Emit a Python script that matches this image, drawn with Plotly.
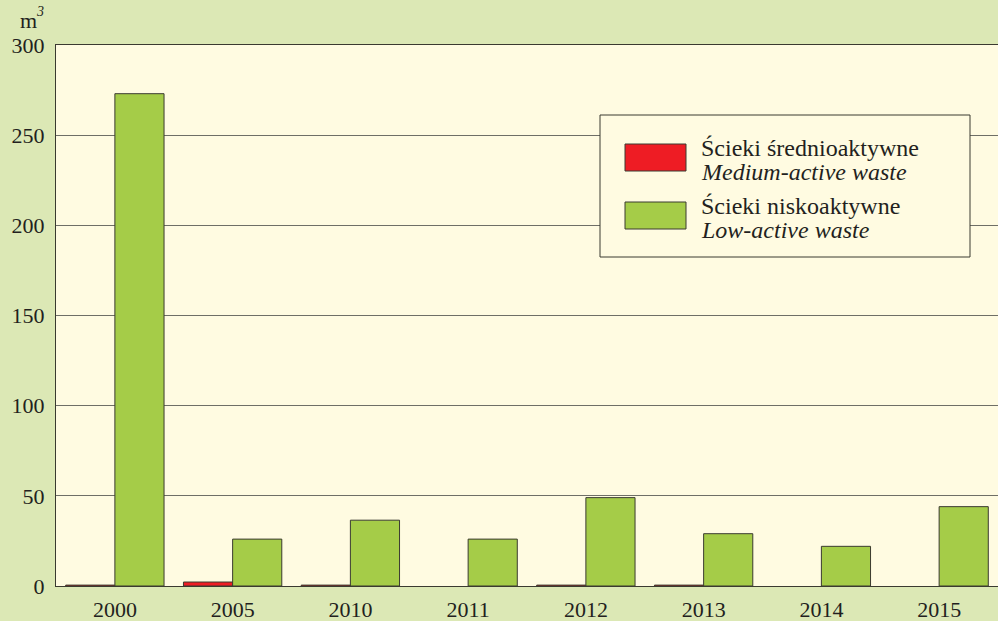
import plotly.graph_objects as go

# Radioactive liquid waste volumes (m3) by year; None = no discharge recorded
years = ["2000", "2005", "2010", "2011", "2012", "2013", "2014", "2015"]
medium_active = [0.5, 2.2, 0.5, None, 0.5, 0.5, None, None]
low_active = [273, 26, 36.5, 26, 49, 29, 22, 44]

series_pl = ["Ścieki średnioaktywne", "Ścieki niskoaktywne"]
series_en = ["Medium-active waste", "Low-active waste"]
series_colors = ["#ee1c24", "#a5cc48"]

y_ticks = [0, 50, 100, 150, 200, 250, 300]

W, H = 998, 621
L, R, T, B = 56, 0, 45, 35
PW, PH = W - L - R, H - T - B

FONT = "Liberation Serif"
OUTLINE = "#3a3a30"


def px_x(x):
    return (x - L) / PW


def px_y(y):
    return (H - B - y) / PH


fig = go.Figure()
for vals, name, color in zip([medium_active, low_active], series_pl, series_colors):
    fig.add_trace(go.Bar(
        x=years, y=vals, name=name,
        marker=dict(color=color, line=dict(color=OUTLINE, width=1)),
        showlegend=False,
    ))

fig.update_layout(
    width=W, height=H,
    margin=dict(l=L, r=R, t=T, b=B),
    paper_bgcolor="#dce8b5",
    plot_bgcolor="#fffbe1",
    barmode="group",
    bargap=0.165,
    bargroupgap=0,
    font=dict(family=FONT, size=22, color="#231f20"),
    xaxis=dict(
        type="category", showgrid=False, showline=True, mirror=True,
        linecolor=OUTLINE, linewidth=1, ticks="", tickfont=dict(size=22),
        ticklabelstandoff=4,
    ),
    yaxis=dict(
        range=[0, 300], tickvals=y_ticks, showgrid=True, gridcolor="#6e6e66",
        gridwidth=1, showline=True, mirror=True, linecolor=OUTLINE,
        linewidth=1, ticks="", zeroline=False, tickfont=dict(size=22),
        ticklabelstandoff=6,
    ),
)

# Unit label (m with italic superscript 3) above the value axis
fig.add_annotation(
    x=px_x(39), y=px_y(20), xref="paper", yref="paper",
    text="m", showarrow=False, xanchor="right", yanchor="middle",
    font=dict(size=22, family=FONT),
)
fig.add_annotation(
    x=px_x(34), y=px_y(11), xref="paper", yref="paper",
    text="<i>3</i>", showarrow=False, xanchor="left", yanchor="middle",
    font=dict(size=14, family=FONT),
)

# Legend box with swatches and bilingual labels
fig.add_shape(
    type="rect", xref="paper", yref="paper",
    x0=px_x(600), x1=px_x(970), y0=px_y(257), y1=px_y(115),
    fillcolor="#fffbe1", line=dict(color=OUTLINE, width=1), layer="above",
)
swatch_tops = [144, 202]
for top, pl, en, color in zip(swatch_tops, series_pl, series_en, series_colors):
    fig.add_shape(
        type="rect", xref="paper", yref="paper",
        x0=px_x(625), x1=px_x(686), y0=px_y(top + 27), y1=px_y(top),
        fillcolor=color, line=dict(color=OUTLINE, width=1), layer="above",
    )
    fig.add_annotation(
        x=px_x(699), y=px_y(top + 4), xref="paper", yref="paper",
        text=pl, showarrow=False, xanchor="left", yanchor="middle",
        font=dict(size=24, family=FONT),
    )
    fig.add_annotation(
        x=px_x(699), y=px_y(top + 28), xref="paper", yref="paper",
        text="<i>" + en + "</i>", showarrow=False, xanchor="left", yanchor="middle",
        font=dict(size=24, family=FONT),
    )

fig.write_html("out.html")
